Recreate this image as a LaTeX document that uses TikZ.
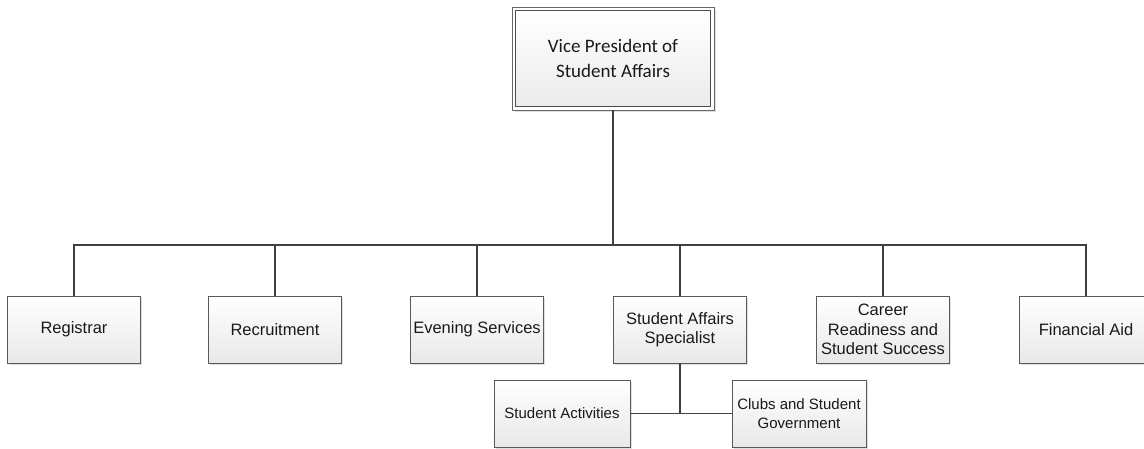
\documentclass[tikz,border=0pt]{standalone}
\usepackage{fontspec}
\setmainfont{Liberation Sans}
\newfontfamily\vpfont{Carlito}
\usetikzlibrary{shadows}
\begin{document}
\begin{tikzpicture}[x=1pt,y=-1pt,
  box/.style={draw=black!65, line width=0.8pt, top color=white, bottom color=black!9,
    minimum width=133pt, minimum height=67pt, inner sep=1pt, align=center,
    font=\fontsize{16.5}{19.5}\selectfont, text=black!90,
    drop shadow={shadow xshift=1.5pt, shadow yshift=-1.5pt, fill=black!30, opacity=0.4}},
  subbox/.style={box, font=\fontsize{15}{19.5}\selectfont},
  vpbox/.style={draw=black!70, line width=0.9pt,
    top color=white, bottom color=black!8, minimum width=195pt, minimum height=96pt,
    align=center, font=\vpfont\fontsize{19}{25}\selectfont, text=black!90},
  vpframe/.style={draw=black!60, line width=0.9pt},
  conn/.style={draw=black!75, line width=1.3pt}]
\useasboundingbox (0,0) rectangle (1144,448);
\fill[black!30, opacity=0.4] (514.5,9.5) rectangle (715.5,111.5);
\fill[white] (512,7) rectangle (714,110);
\draw[vpframe] (512,7) rectangle (714,110);
\node[vpbox] (vp) at (613,58.5) {Vice President of\\Student Affairs};
\node[box] (reg) at (74,329.5) {Registrar};
\node[box] (rec) at (275,329.5) {Recruitment};
\node[box] (eve) at (477,329.5) {Evening Services};
\node[box] (sas) at (680,329.5) {Student Affairs\\Specialist};
\node[box] (car) at (883,329.5) {Career\\Readiness and\\Student Success};
\node[box] (fin) at (1086,329.5) {Financial Aid};
\node[subbox, minimum width=136pt] (act) at (562,413.5) {Student Activities};
\node[subbox, minimum width=134pt] (clu) at (799,413.5) {Clubs and Student\\Government};
\coordinate (bus) at (613,245);
\draw[conn] (vp.south) ++(0,3.5) -- (vp.south |- bus);
\draw[conn] (reg.north) |- (bus) -| (fin.north);
\foreach \n in {rec,eve,sas,car}
  \draw[conn] (\n.north) -- (\n.north |- bus);
\draw[conn] (sas.south) -- (sas.south |- act.east);
\draw[conn] (act.east) -- (clu.west);
\end{tikzpicture}
\end{document}
